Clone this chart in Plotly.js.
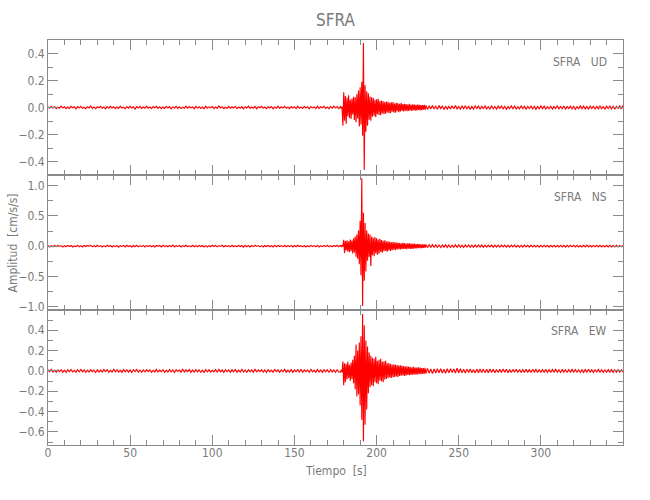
<!DOCTYPE html>
<html>
<head>
<meta charset="utf-8">
<script src="https://cdn.plot.ly/plotly-3.0.1.min.js"></script>
<style>html,body{margin:0;padding:0;background:#fff;}#chart{width:650px;height:500px;}</style>
</head>
<body>
<div id="chart"></div>
<script>
// ---- Sampling of the records (start time, step in s, per segment)
const segStart = [0, 178, 231];
const segStep  = [1, 0.5, 1];

// ---- UD component (cm/s/s)
const ud_pre = [
.004,-.006,.008,-.003,.007,-.009,.002,-.005,.010,-.004,
.006,-.008,.003,-.007,.009,-.002,.005,-.010,.007,-.004,
.008,-.006,.002,-.009,.006,-.003,.011,-.007,.004,-.008,
.005,-.002,.009,-.006,.003,-.010,.007,-.005,.008,-.003,
.006,-.009,.004,-.007,.010,-.004,.002,-.008,.007,-.005,
.009,-.003,.005,-.011,.006,-.004,.008,-.007,.003,-.006,
.010,-.005,.004,-.008,.007,-.002,.009,-.006,.005,-.009,
.003,-.007,.008,-.004,.006,-.010,.004,-.003,.009,-.007,
.005,-.008,.002,-.006,.010,-.005,.007,-.003,.004,-.009,
.008,-.004,.006,-.007,.003,-.010,.009,-.005,.005,-.002,
.007,-.008,.004,-.006,.011,-.003,.006,-.009,.002,-.007,
.008,-.005,.005,-.004,.009,-.008,.003,-.006,.007,-.010,
.006,-.003,.010,-.007,.004,-.005,.008,-.009,.005,-.002,
.009,-.006,.003,-.008,.006,-.004,.007,-.010,.004,-.005,
.010,-.007,.005,-.003,.008,-.006,.002,-.009,.007,-.004,
.006,-.008,.009,-.005,.003,-.007,.008,-.004,.005,-.010,
.007,-.003,.004,-.008,.009,-.006,.005,-.002,.008,-.007,
.003,-.009,.006,-.005,.010,-.004,.007,-.008];
const ud_evt = [
.006,-.008,.005,-.135,.112,-.098,.085,-.120,.072,-.064,
.090,-.078,.058,-.085,.066,-.052,.080,-.092,.075,-.110,
.098,-.082,.125,-.140,.150,-.125,.190,-.210,.478,-.462,
.165,-.180,.120,-.135,.105,-.090,.082,-.098,.075,-.068,
.070,-.062,.055,-.072,.060,-.050,.064,-.055,.048,-.058,
.052,-.044,.046,-.050,.040,-.046,.044,-.036,.042,-.040,
.034,-.042,.038,-.032,.040,-.036,.030,-.038,.034,-.028,
.032,-.034,.028,-.030,.033,-.026,.025,-.030,.028,-.024,
.026,-.028,.022,-.025,.027,-.022,.020,-.026,.024,-.020,
.022,-.023,.019,-.022,.021,-.018,.020,-.021,.017,-.019,
.018,-.016,.019,-.017,.015];
const ud_post = [
-.014,.012,-.010,.015,-.011,.009,-.013,.014,-.008,.012,
-.015,.010,-.012,.008,-.011,.013,-.009,.014,-.010,.007,
-.012,.011,-.008,.013,-.010,.009,-.014,.008,-.011,.012,
-.007,.010,-.013,.009,-.008,.012,-.010,.006,-.011,.013,
-.009,.008,-.012,.010,-.007,.011,-.010,.009,-.013,.007,
-.008,.012,-.009,.010,-.011,.006,-.010,.013,-.008,.009,
-.012,.008,-.007,.011,-.010,.009,-.013,.007,-.009,.012,
-.008,.010,-.011,.006,-.010,.009,-.012,.008,-.007,.013,
-.010,.008,-.009,.011,-.012,.007,-.008,.010,-.011,.009,
-.013,.006,-.009,.012,-.008,.010,-.010,.007,-.012,.011,
-.007,.009,-.011,.008,-.010,.013,-.009,.006,-.012,.010,
-.008,.011,-.010,.009,-.013,.008,-.007,.012,-.010,.014];

// ---- NS component (cm/s/s)
const ns_pre = [
.010,-.014,.006,-.011,.015,-.008,.012,-.005,.009,-.016,
.007,-.010,.013,-.006,.011,-.013,.004,-.009,.014,-.011,
.008,-.015,.010,-.007,.012,-.004,.016,-.012,.006,-.010,
.013,-.008,.009,-.014,.005,-.011,.015,-.006,.010,-.013,
.007,-.009,.012,-.016,.008,-.005,.011,-.012,.014,-.007,
.006,-.013,.010,-.009,.015,-.011,.005,-.008,.012,-.014,
.009,-.006,.013,-.010,.007,-.015,.011,-.004,.010,-.012,
.014,-.008,.006,-.011,.012,-.009,.016,-.013,.008,-.005,
.011,-.014,.009,-.007,.013,-.010,.005,-.012,.015,-.009,
.007,-.011,.012,-.006,.010,-.015,.008,-.013,.006,-.010,
.014,-.007,.011,-.012,.009,-.005,.013,-.014,.010,-.008,
.006,-.012,.015,-.009,.008,-.011,.012,-.006,.010,-.016,
.013,-.010,.007,-.013,.011,-.008,.014,-.005,.009,-.012,
.008,-.015,.010,-.007,.012,-.011,.006,-.014,.013,-.009,
.011,-.006,.009,-.012,.015,-.010,.007,-.008,.012,-.013,
.010,-.009,.014,-.007,.006,-.012,.011,-.015,.008,-.010,
.013,-.006,.009,-.011,.012,-.014,.007,-.009,.010,-.008,
.015,-.012,.006,-.010,.011,-.007,.013,-.011];
const ns_evt = [
.012,-.010,.014,-.009,.105,-.112,.085,-.070,.095,-.088,
.078,-.100,.110,-.082,.092,-.120,.130,-.105,.160,-.175,
.190,-.210,.260,-.300,.420,-.480,1.120,-.990,.550,-.570,
.380,-.420,.260,-.240,.210,-.180,.190,-.330,.160,-.150,
.140,-.165,.150,-.120,.130,-.140,.110,-.125,.120,-.095,
.100,-.110,.090,-.085,.095,-.080,.075,-.090,.080,-.070,
.072,-.078,.065,-.068,.070,-.060,.062,-.066,.058,-.055,
.060,-.050,.052,-.056,.048,-.052,.055,-.046,.050,-.048,
.044,-.050,.046,-.042,.048,-.044,.040,-.045,.038,-.040,
.042,-.036,.035,-.038,.036,-.032,.034,-.035,.030,-.033,
.031,-.028,.030,-.029,.027];
const ns_post = [
-.024,.022,-.020,.025,-.019,.021,-.023,.018,-.022,.020,
-.017,.023,-.021,.019,-.022,.016,-.020,.021,-.018,.022,
-.019,.017,-.021,.018,-.016,.020,-.019,.015,-.020,.018,
-.017,.019,-.015,.018,-.019,.016,-.017,.018,-.014,.017,
-.018,.015,-.016,.017,-.015,.018,-.014,.016,-.017,.013,
-.016,.015,-.013,.017,-.015,.014,-.016,.012,-.015,.016,
-.014,.013,-.015,.016,-.012,.014,-.015,.013,-.016,.012,
-.013,.015,-.014,.012,-.016,.014,-.012,.015,-.013,.011,
-.015,.013,-.012,.014,-.016,.012,-.013,.015,-.011,.014,
-.013,.012,-.015,.011,-.014,.013,-.012,.016,-.013,.011,
-.014,.012,-.011,.015,-.013,.012,-.014,.010,-.013,.014,
-.012,.013,-.015,.011,-.012,.014,-.013,.012,-.011,.013];

// ---- EW component (cm/s/s)
const ew_pre = [
.012,-.009,.015,-.011,.007,-.014,.010,-.006,.013,-.012,
.008,-.015,.011,-.007,.014,-.010,.006,-.013,.012,-.009,
.015,-.008,.010,-.014,.007,-.011,.013,-.006,.009,-.015,
.011,-.012,.008,-.010,.014,-.007,.012,-.013,.006,-.011,
.016,-.009,.010,-.012,.007,-.014,.013,-.008,.011,-.010,
.009,-.015,.012,-.006,.014,-.011,.008,-.013,.010,-.009,
.013,-.007,.011,-.014,.006,-.012,.015,-.010,.009,-.008,
.012,-.013,.007,-.011,.014,-.009,.010,-.015,.013,-.006,
.008,-.012,.016,-.010,.011,-.007,.013,-.014,.009,-.011,
.012,-.008,.010,-.013,.007,-.015,.014,-.009,.011,-.012,
.006,-.010,.013,-.011,.015,-.008,.009,-.014,.012,-.007,
.010,-.013,.011,-.009,.014,-.012,.008,-.010,.016,-.011,
.007,-.014,.012,-.008,.010,-.013,.015,-.009,.011,-.006,
.013,-.011,.009,-.015,.012,-.010,.008,-.012,.014,-.007,
.011,-.013,.010,-.009,.015,-.012,.007,-.011,.013,-.014,
.009,-.008,.012,-.010,.014,-.013,.011,-.007,.010,-.015,
.016,-.009,.008,-.012,.013,-.011,.010,-.014,.012,-.009,
.011,-.016,.014,-.010,.009,-.013,.012,-.011];
const ew_evt = [
-.012,.010,-.014,.092,-.140,.075,-.110,.068,-.085,.090,
-.070,.060,-.095,.082,-.078,.110,-.120,.150,-.180,.260,
-.250,.200,-.230,.280,-.340,.340,-.480,.560,-.690,.450,
-.530,.300,-.380,.240,-.220,.180,-.160,.150,-.140,.130,
-.150,.120,-.110,.140,-.120,.100,-.130,.110,-.095,.120,
-.100,.090,-.110,.095,-.085,.100,-.080,.075,-.070,.078,
-.065,.070,-.068,.060,-.062,.066,-.058,.060,-.055,.058,
-.060,.052,-.050,.055,-.048,.050,-.045,.047,-.050,.042,
-.044,.046,-.040,.043,-.042,.038,-.040,.036,-.038,.040,
-.035,.034,-.036,.032,-.034,.035,-.030,.032,-.031,.028,
-.030,.029,-.027,.030,-.026];
const ew_post = [
.024,-.022,.020,-.025,.019,-.021,.023,-.018,.022,-.020,
.017,-.023,.021,-.019,.022,-.016,.020,-.021,.026,-.018,
.022,-.019,.017,-.021,.018,-.016,.020,-.019,.015,-.020,
.018,-.017,.019,-.015,.018,-.019,.016,-.017,.018,-.014,
.017,-.018,.015,-.016,.017,-.015,.018,-.014,.016,-.017,
.013,-.016,.015,-.013,.017,-.015,.014,-.016,.012,-.015,
.016,-.014,.013,-.015,.016,-.012,.014,-.015,.013,-.016,
.012,-.013,.015,-.014,.012,-.016,.014,-.012,.015,-.013,
.011,-.015,.013,-.012,.014,-.016,.012,-.013,.015,-.011,
.014,-.013,.012,-.015,.011,-.014,.013,-.012,.016,-.013,
.011,-.014,.012,-.011,.015,-.013,.012,-.014,.010,-.013,
.014,-.012,.013,-.015,.011,-.012,.014,-.013,.012,-.011];

const components = ['UD', 'NS', 'EW'];
const station = 'SFRA';
const xTickVals = [0, 50, 100, 150, 200, 250, 300];

// ---- build sampling times for a record made of 3 segments
function samplingTimes(segs) {
  const t = [];
  segs.forEach((seg, k) => {
    for (let i = 0; i < seg.length; i++) t.push(segStart[k] + i * segStep[k]);
  });
  return t;
}
function record(segs) {
  return { t: samplingTimes(segs), v: [].concat(...segs) };
}
const UD = record([ud_pre, ud_evt, ud_post]);
const NS = record([ns_pre, ns_evt, ns_post]);
const EW = record([ew_pre, ew_evt, ew_post]);

const FONT = "'Liberation Sans Narrow','DejaVu Sans Condensed','Roboto Condensed','Arial Narrow',sans-serif";
const TXT = '#7a7a7a';
const AX = '#8a8a8a';

function line(rec, xa, ya) {
  return { type: 'scatter', mode: 'lines', x: rec.t, y: rec.v, xaxis: xa, yaxis: ya,
           line: { color: '#ff0000', width: 1.15 }, hoverinfo: 'skip', showlegend: false };
}
const data = [ line(UD, 'x3', 'y'), line(NS, 'x2', 'y2'), line(EW, 'x', 'y3') ];

function xax(anchor, labels) {
  return {
    anchor: anchor, domain: [0, 1], range: [0, 350], showgrid: false, zeroline: false,
    showline: true, linecolor: AX, linewidth: 1, mirror: 'ticks',
    ticks: 'inside', ticklen: 10, tickcolor: AX, tickwidth: 1,
    tickvals: xTickVals, showticklabels: labels, ticklabelstandoff: -3,
    minor: { dtick: 10, tick0: 0, ticks: 'inside', ticklen: 5, tickcolor: AX, tickwidth: 1, showgrid: false },
    tickfont: { family: FONT, size: 12, color: TXT }
  };
}
function yax(anchor, domain, range, dtick, minorDtick) {
  return {
    anchor: anchor, domain: domain, range: range, showgrid: false, zeroline: false,
    showline: true, linecolor: AX, linewidth: 1, mirror: 'ticks',
    ticks: 'inside', ticklen: 10, tickcolor: AX, tickwidth: 1,
    tick0: 0, dtick: dtick, tickformat: '.1f',
    minor: { dtick: minorDtick, tick0: 0, ticks: 'inside', ticklen: 5, tickcolor: AX, tickwidth: 1, showgrid: false },
    tickfont: { family: FONT, size: 12, color: TXT }
  };
}

const labelY = [0.946, 0.613, 0.2815];
const annotations = components.map((c, k) => ({
  xref: 'paper', yref: 'paper', x: 0.9757, y: labelY[k], xanchor: 'right', yanchor: 'middle',
  text: station + '\u00a0\u00a0\u00a0' + c, showarrow: false,
  font: { family: FONT, size: 12, color: TXT }
}));
annotations.push({
  xref: 'paper', yref: 'paper', x: -0.061, y: 0.5, xanchor: 'center', yanchor: 'middle',
  textangle: -90, text: 'Amplitud\u00a0\u00a0[cm/s/s]', showarrow: false,
  font: { family: FONT, size: 12, color: TXT }
});
annotations.push({
  xref: 'paper', yref: 'paper', x: 0.5, y: -0.064, xanchor: 'center', yanchor: 'middle',
  text: 'Tiempo\u00a0\u00a0[s]', showarrow: false,
  font: { family: FONT, size: 12, color: TXT }
});

const layout = {
  width: 650, height: 500,
  margin: { l: 48, r: 27, t: 40, b: 55 },
  paper_bgcolor: '#ffffff', plot_bgcolor: '#ffffff',
  title: { text: station, x: 0.5, xref: 'paper', y: 0.96, yref: 'container', yanchor: 'middle',
           font: { family: FONT, size: 17, color: TXT } },
  xaxis: xax('y3', true),
  xaxis2: Object.assign(xax('y2', false), { matches: 'x' }),
  xaxis3: Object.assign(xax('y', false), { matches: 'x' }),
  yaxis: yax('x3', [2/3, 1], [-0.5, 0.5], 0.2, 0.1),
  yaxis2: yax('x2', [1/3, 2/3], [-1.055, 1.175], 0.5, 0.25),
  yaxis3: yax('x', [0, 1/3], [-0.728, 0.599], 0.2, 0.1),
  annotations: annotations,
  hovermode: false
};

Plotly.newPlot('chart', data, layout, { staticPlot: true, displayModeBar: false });
</script>
</body>
</html>
